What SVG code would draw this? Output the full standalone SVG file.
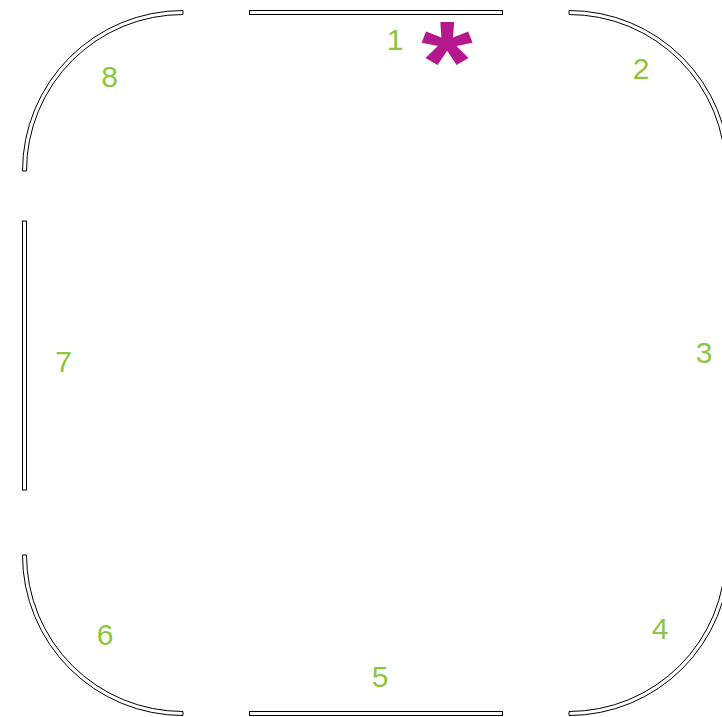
<svg xmlns="http://www.w3.org/2000/svg" width="722" height="717" viewBox="0 0 722 717">
<style>
.seg{fill:#fff;stroke:#000;stroke-width:1}
.lbl{font-family:"Liberation Sans",Arial,sans-serif;font-size:30px;fill:#8cc63f;text-anchor:middle}
.star{font-family:"Liberation Sans",Arial,sans-serif;font-size:115px;font-weight:bold;fill:#b5188c;text-anchor:middle}
</style>
<rect width="722" height="717" fill="#fff"/>
<g id="connectors"></g>
<g id="seg1"><rect class="seg" x="249.5" y="10.5" width="253" height="4"/><text class="lbl" x="395" y="50">1</text></g>
<g id="seg2"><path class="seg" d="M569,10.5 A160.5,160.5 0 0 1 729.5,171 L725.5,171 A156.5,156.5 0 0 0 569,14.5 Z"/><text class="lbl" x="641" y="79">2</text></g>
<g id="seg3"><rect class="seg" x="725.5" y="221" width="4" height="269"/><text class="lbl" x="704" y="363">3</text></g>
<g id="seg4"><path class="seg" d="M729.5,555 A160.5,160.5 0 0 1 569,715.5 L569,711.5 A156.5,156.5 0 0 0 725.5,555 Z"/><text class="lbl" x="660" y="639">4</text></g>
<g id="seg5"><rect class="seg" x="249.5" y="711.5" width="253" height="4"/><text class="lbl" x="380" y="687">5</text></g>
<g id="seg6"><path class="seg" d="M183,715.5 A160.5,160.5 0 0 1 22.5,555 L26.5,555 A156.5,156.5 0 0 0 183,711.5 Z"/><text class="lbl" x="105" y="645">6</text></g>
<g id="seg7"><rect class="seg" x="22.5" y="221" width="4" height="269"/><text class="lbl" x="63.5" y="372">7</text></g>
<g id="seg8"><path class="seg" d="M22.5,171 A160.5,160.5 0 0 1 183,10.5 L183,14.5 A156.5,156.5 0 0 0 26.5,171 Z"/><text class="lbl" x="109.5" y="87">8</text></g>
<g id="marker"><text class="star" transform="translate(447,101) scale(1.15,1)" x="0" y="0">*</text></g>
</svg>
